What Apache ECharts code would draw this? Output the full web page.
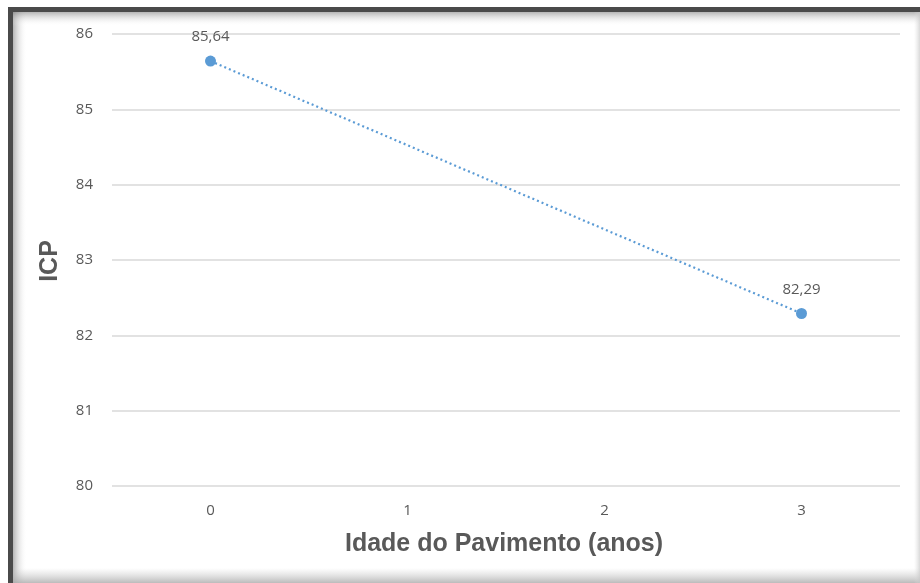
<!DOCTYPE html>
<html>
<head>
<meta charset="utf-8">
<script src="https://cdn.jsdelivr.net/npm/echarts@6/dist/echarts.min.js"></script>
<style>
  html, body { margin: 0; padding: 0; background: #ffffff; }
  #chart { width: 920px; height: 583px; }
</style>
</head>
<body>
<div id="chart"></div>
<script>
// Pavement age (years) and condition index values
const ages = ['0', '1', '2', '3'];
const icpValues = [85.64, null, null, 82.29];
const yTicks = { min: 80, max: 86, interval: 1 };

const chart = echarts.init(document.getElementById('chart'), null, { renderer: 'canvas' });

const textColor = '#595959';
const labelFont = '"Open Sans", "Noto Sans", sans-serif';

chart.setOption({
  animation: false,
  backgroundColor: '#ffffff',
  graphic: [
    // picture frame with a soft inner shadow on the top and left edges
    { type: 'rect', shape: { x: 8, y: 10, width: 5, height: 573 }, style: { fill: '#4a4a4a' }, silent: true },
    { type: 'rect', shape: { x: 8, y: 7, width: 912, height: 5 }, style: { fill: '#4a4a4a' }, silent: true },
    { type: 'rect', shape: { x: 13, y: 12, width: 14, height: 571 },
      style: { fill: new echarts.graphic.LinearGradient(0, 0, 1, 0, [
        { offset: 0, color: 'rgba(120,120,120,0.55)' }, { offset: 1, color: 'rgba(255,255,255,0)' }]) }, silent: true },
    { type: 'rect', shape: { x: 13, y: 12, width: 907, height: 14 },
      style: { fill: new echarts.graphic.LinearGradient(0, 0, 0, 1, [
        { offset: 0, color: 'rgba(120,120,120,0.55)' }, { offset: 1, color: 'rgba(255,255,255,0)' }]) }, silent: true },
    { type: 'rect', shape: { x: 13, y: 568, width: 907, height: 15 },
      style: { fill: new echarts.graphic.LinearGradient(0, 0, 0, 1, [
        { offset: 0, color: 'rgba(200,200,200,0)' }, { offset: 1, color: 'rgba(170,170,170,0.8)' }]) }, silent: true },
    { type: 'rect', shape: { x: 914, y: 12, width: 6, height: 571 },
      style: { fill: new echarts.graphic.LinearGradient(0, 0, 1, 0, [
        { offset: 0, color: 'rgba(220,220,220,0)' }, { offset: 1, color: 'rgba(200,200,200,0.7)' }]) }, silent: true },
    // axis titles
    { type: 'text', x: 50, y: 261, rotation: Math.PI / 2,
      style: { text: 'ICP', fill: textColor, font: 'bold 25px "Liberation Sans", Arial, sans-serif',
               align: 'center', verticalAlign: 'middle' } },
    { type: 'text', x: 504, y: 544,
      style: { text: 'Idade do Pavimento (anos)', fill: textColor, font: 'bold 25px "Liberation Sans", Arial, sans-serif',
               align: 'center', verticalAlign: 'middle' } }
  ],
  grid: { left: 112, right: 20, top: 34, bottom: 97 },
  xAxis: {
    type: 'category',
    data: ages,
    boundaryGap: true,
    axisLine: { show: false },
    axisTick: { show: false },
    axisLabel: { color: textColor, fontSize: 15, margin: 17, fontFamily: labelFont },
    splitLine: { show: false }
  },
  yAxis: {
    type: 'value',
    min: yTicks.min,
    max: yTicks.max,
    interval: yTicks.interval,
    axisLine: { show: false },
    axisTick: { show: false },
    axisLabel: { color: textColor, fontSize: 15, margin: 19, fontFamily: labelFont },
    splitLine: { lineStyle: { color: '#d9d9d9', width: 1.5 } }
  },
  series: [{
    type: 'line',
    data: icpValues,
    connectNulls: true,
    symbol: 'circle',
    symbolSize: 11,
    itemStyle: { color: '#5B9BD5' },
    lineStyle: { color: '#5B9BD5', width: 2.2, type: [2, 3] },
    label: {
      show: true,
      position: 'top',
      distance: 11,
      color: textColor,
      fontSize: 15,
      fontFamily: labelFont,
      formatter: p => p.value.toFixed(2).replace('.', ',')
    }
  }]
});
</script>
</body>
</html>
